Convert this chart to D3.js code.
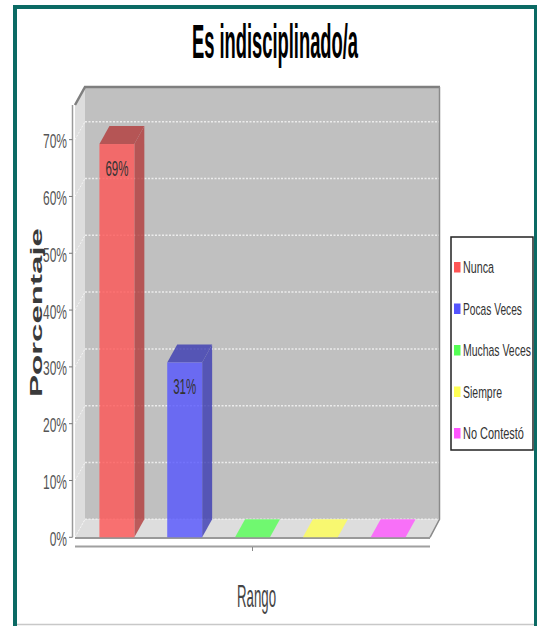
<!DOCTYPE html>
<html>
<head>
<meta charset="utf-8">
<script src="https://cdn.jsdelivr.net/npm/d3@7"></script>
<style>
  html, body { margin: 0; padding: 0; background: #ffffff; }
  svg { display: block; }
</style>
</head>
<body>
<svg id="chart" width="537" height="626"></svg>
<script>
// ---- data ----
const categories = ["Nunca", "Pocas Veces", "Muchas Veces", "Siempre", "No Contestó"];
const values = [69.23, 30.77, 0, 0, 0];
const seriesColors = ["#ff5555", "#5555ff", "#55ff55", "#ffff55", "#ff55ff"];
const yTicks = [0, 10, 20, 30, 40, 50, 60, 70];
const titleText = "Es indisciplinado/a";
const xTitle = "Rango";
const yTitle = "Porcentaje";

// ---- layout ----
const svg = d3.select("#chart");
const plotL = 75, plotR = 430, plotTop = 105, plotBottom = 537.3;
const DX = 10, DY = 18;
const FONT = "'Liberation Sans', Arial, sans-serif";

const x = d3.scaleBand().domain(categories).range([plotL, plotR])
  .paddingInner(0.485).paddingOuter(0.36);
const y = d3.scaleLinear().domain([0, 76.1]).range([plotBottom, plotTop]);

// text helper: draws text at (tx,ty), squeezed/stretched horizontally to a target width
function addText(parent, o) {
  const g = parent.append("g");
  const t = g.append("text").attr("x", 0).attr("y", 0)
    .attr("text-anchor", o.anchor || "start")
    .attr("font-family", FONT).attr("font-size", o.size)
    .attr("font-weight", o.weight || "normal")
    .attr("fill", o.fill || "#333").text(o.text);
  const natural = t.node().getComputedTextLength();
  const s = o.width ? o.width / natural : (o.factor || 1);
  g.attr("transform", `translate(${o.x},${o.y})` + (o.rotate ? ` rotate(${o.rotate})` : "") + ` scale(${s},1)`);
  return g;
}

// frame
svg.append("line").attr("x1", 17).attr("x2", 534).attr("y1", 624.5).attr("y2", 624.5)
  .attr("stroke", "#c8c8c8").attr("stroke-width", 1.5);
svg.append("path")
  .attr("d", `M15,640 L15,7 L536,7 L536,640`)
  .attr("fill", "none").attr("stroke", "#0b6a64").attr("stroke-width", 4);

// title
addText(svg, { x: 275, y: 58, anchor: "middle", size: 48, weight: "bold", fill: "#000", width: 166, text: titleText });

const y0 = y(0);
const bx0 = plotL + DX, bx1 = plotR + DX, byTop = plotTop - DY, byBot = y0 - DY;

// back wall
svg.append("rect").attr("x", bx0).attr("y", byTop).attr("width", bx1 - bx0).attr("height", byBot - byTop)
  .attr("fill", "#c0c0c0");
// left wall
svg.append("path").attr("d", `M${plotL},${plotTop} L${bx0},${byTop} L${bx0},${byBot} L${plotL},${y0} Z`)
  .attr("fill", "#dddddd");
// floor
svg.append("path").attr("d", `M${plotL},${y0} L${bx0},${byBot} L${bx1},${byBot} L${plotR},${y0} Z`)
  .attr("fill", "#dddddd");

// gridlines
const grid = svg.append("g");
yTicks.forEach(t => {
  const yy = y(t) - DY;
  grid.append("line").attr("x1", bx0).attr("x2", bx1 - 1).attr("y1", yy).attr("y2", yy)
    .attr("stroke", "#ececec").attr("stroke-width", 1.5).attr("stroke-dasharray", "2,1.5");
  grid.append("line").attr("x1", plotL).attr("x2", bx0).attr("y1", y(t)).attr("y2", yy)
    .attr("stroke", "#f4f4f4").attr("stroke-width", 1).attr("stroke-dasharray", "2,1.5");
});

// wall edges
svg.append("path").attr("d", `M${plotL},${plotTop} L${bx0},${byTop} L${bx1},${byTop}`)
  .attr("fill", "none").attr("stroke", "#7f7f7f").attr("stroke-width", 2.5);
svg.append("path").attr("d", `M${bx1 - 0.5},${byTop} L${bx1 - 0.5},${byBot} L${plotR},${y0}`)
  .attr("fill", "none").attr("stroke", "#8a8a8a").attr("stroke-width", 1.5);
svg.append("line").attr("x1", plotL).attr("x2", plotR).attr("y1", y0 + 0.8).attr("y2", y0 + 0.8)
  .attr("stroke", "#999").attr("stroke-width", 2);

// bars
const bars = svg.append("g");
categories.forEach((c, i) => {
  const v = values[i];
  const col = d3.color(seriesColors[i]);
  const dark = col.darker(1);
  const x0 = x(c), x1 = x0 + x.bandwidth(), yt = y(v);
  const g = bars.append("g").attr("opacity", 0.8);
  if (v > 0) {
    g.append("path").attr("d", `M${x1},${yt} L${x1 + DX},${yt - DY} L${x1 + DX},${byBot} L${x1},${y0} Z`)
      .attr("fill", dark);
    g.append("path").attr("d", `M${x0},${yt} L${x0 + DX},${yt - DY} L${x1 + DX},${yt - DY} L${x1},${yt} Z`)
      .attr("fill", dark);
    g.append("rect").attr("x", x0).attr("y", yt).attr("width", x.bandwidth()).attr("height", y0 - yt)
      .attr("fill", col);
  } else {
    g.append("path").attr("d", `M${x0},${y0} L${x0 + DX},${byBot} L${x1 + DX},${byBot} L${x1},${y0} Z`)
      .attr("fill", col);
  }
});

// bar labels
categories.forEach((c, i) => {
  const v = values[i];
  if (v <= 0) return;
  addText(svg, { x: x(c) + x.bandwidth() / 2, y: y(v) + 31.5, anchor: "middle", size: 22,
    fill: "#333", width: 23, text: Math.round(v) + "%" });
});

// y axis
const yAxisX = 72.5;
svg.append("line").attr("x1", yAxisX).attr("x2", yAxisX).attr("y1", plotTop).attr("y2", y0)
  .attr("stroke", "#9a9a9a").attr("stroke-width", 1.5);
const yt = svg.append("g");
yTicks.forEach(t => {
  yt.append("line").attr("x1", yAxisX - 3.5).attr("x2", yAxisX).attr("y1", y(t)).attr("y2", y(t))
    .attr("stroke", "#777").attr("stroke-width", 1);
  addText(yt, { x: 67, y: y(t) + 8.5, anchor: "end", size: 20, fill: "#555", factor: 0.6, text: t + "%" });
});

// x axis
svg.append("line").attr("x1", plotL).attr("x2", plotR).attr("y1", 546.5).attr("y2", 546.5)
  .attr("stroke", "#a0a0a0").attr("stroke-width", 2);
svg.append("line").attr("x1", (plotL + plotR) / 2).attr("x2", (plotL + plotR) / 2)
  .attr("y1", 547).attr("y2", 551).attr("stroke", "#888").attr("stroke-width", 1);

// axis titles
addText(svg, { x: 256.5, y: 607, anchor: "middle", size: 32, fill: "#444", width: 39, text: xTitle });
addText(svg, { x: 42, y: 312.5, rotate: -90, anchor: "middle", size: 17, weight: "bold",
  fill: "#3a3a3a", width: 169, text: yTitle });

// legend
const legendWidths = [31, 59, 68, 39, 61];
const lg = svg.append("g");
lg.append("rect").attr("x", 451).attr("y", 237).attr("width", 82).attr("height", 213)
  .attr("fill", "#fff").attr("stroke", "#222").attr("stroke-width", 1.5);
categories.forEach((c, i) => {
  const base = 273 + i * 41.5;
  lg.append("rect").attr("x", 454).attr("y", base - 11).attr("width", 6.5).attr("height", 10.5)
    .attr("fill", seriesColors[i]);
  addText(lg, { x: 463, y: base, size: 16, fill: "#333", width: legendWidths[i], text: c });
});
</script>
</body>
</html>
